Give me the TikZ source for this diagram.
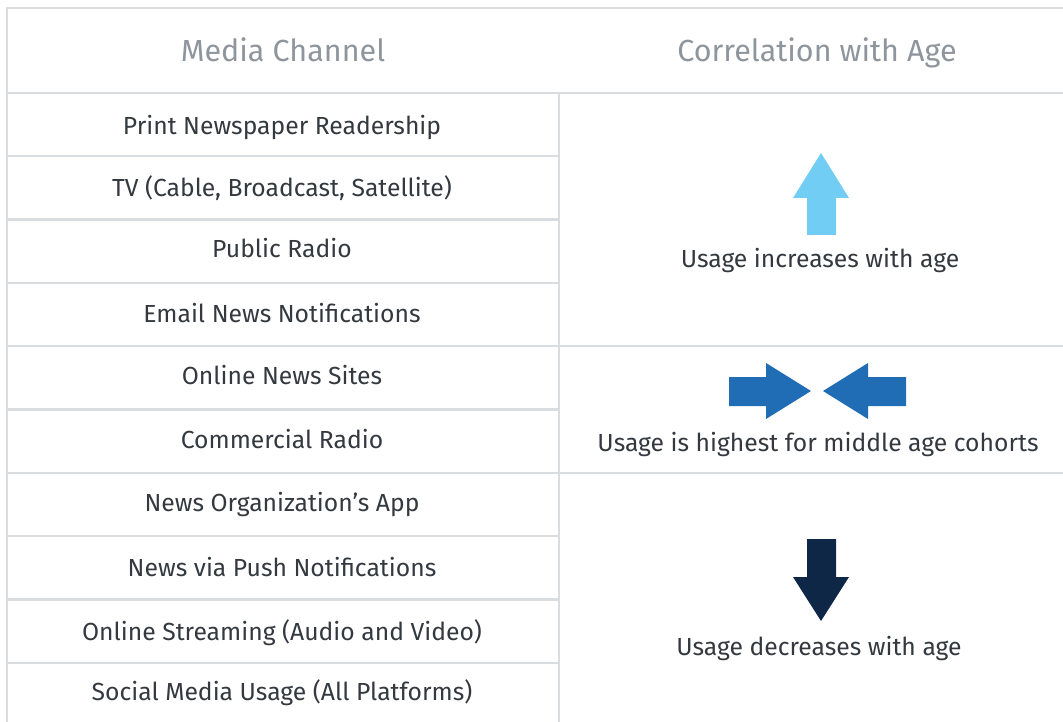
\documentclass[tikz,border=0pt]{standalone}
\usepackage{fontspec}
\setmainfont{Fira Sans}
\definecolor{gridgray}{HTML}{D9DDE0}
\definecolor{headgray}{HTML}{8E959C}
\definecolor{bodytext}{HTML}{33393F}
\definecolor{uplight}{HTML}{72CDF4}
\definecolor{midblue}{HTML}{206DB6}
\definecolor{downnavy}{HTML}{0F2747}

\begin{document}
\begin{tikzpicture}[x=1pt, y=-1pt,
    every node/.style={inner sep=0pt, anchor=base},
    head/.style={font=\fontsize{30.5}{34}\selectfont, text=headgray},
    cell/.style={font=\fontsize{24.7}{28}\selectfont, text=bodytext},
    grid/.style={line width=2.2pt, draw=gridgray}]
				\useasboundingbox (0,0) rectangle (1063,722);

				% Frame and header
				\draw[grid] (1063,8) -- (7,8) -- (7,722);
				\draw[grid] (7,93) -- (1063,93);
				\draw[grid] (559,93) -- (559,722);

				% Row lines
				\draw[grid] (7,156.3) -- (559,156.3);
				\draw[grid] (7,219.6) -- (559,219.6);
				\draw[grid] (7,282.9) -- (559,282.9);
				\draw[grid] (7,346.2) -- (1063,346.2);
				\draw[grid] (7,409.5) -- (559,409.5);
				\draw[grid] (7,472.8) -- (1063,472.8);
				\draw[grid] (7,536.1) -- (559,536.1);
				\draw[grid] (7,599.4) -- (559,599.4);
				\draw[grid] (7,662.7) -- (559,662.7);

				% Header labels
				\node[head] (hchannel) at (283,62) {Media Channel};
				\node[head] (hcorr) at (817,62) {Correlation with Age};

				% Media channels
				\node[cell] (print) at (282,135) {Print Newspaper Readership};
				\node[cell] (tv) at (282,197) {TV (Cable, Broadcast, Satellite)};
				\node[cell] (pubradio) at (282,258) {Public Radio};
				\node[cell] (email) at (282,322) {Email News Notifications};
				\node[cell] (online) at (282,384) {Online News Sites};
				\node[cell] (comradio) at (282,448) {Commercial Radio};
				\node[cell] (app) at (282,511) {News Organization’s App};
				\node[cell] (push) at (282,576) {News via Push Notifications};
				\node[cell] (stream) at (282,640) {Online Streaming (Audio and Video)};
				\node[cell] (social) at (282,700) {Social Media Usage (All Platforms)};

				% Correlation labels
				\node[cell] (increase) at (820,268) {Usage increases with age};
				\node[cell] (middle) at (818,451) {Usage is highest for middle age cohorts};
				\node[cell] (decrease) at (819,655) {Usage decreases with age};

				% Arrows
				\fill[uplight] (807,235) -- (807,198) -- (793,198) -- (821,153) -- (849,198) -- (836,198) -- (836,235) -- cycle;
				\fill[midblue] (729,377) -- (766,377) -- (766,363) -- (811,391) -- (766,419) -- (766,406) -- (729,406) -- cycle;
				\fill[midblue] (906,377) -- (868,377) -- (868,363) -- (823,391) -- (868,419) -- (868,406) -- (906,406) -- cycle;
				\fill[downnavy] (807,539) -- (836,539) -- (836,577) -- (849,577) -- (821,621) -- (793,577) -- (807,577) -- cycle;
			\end{tikzpicture}
\end{document}
